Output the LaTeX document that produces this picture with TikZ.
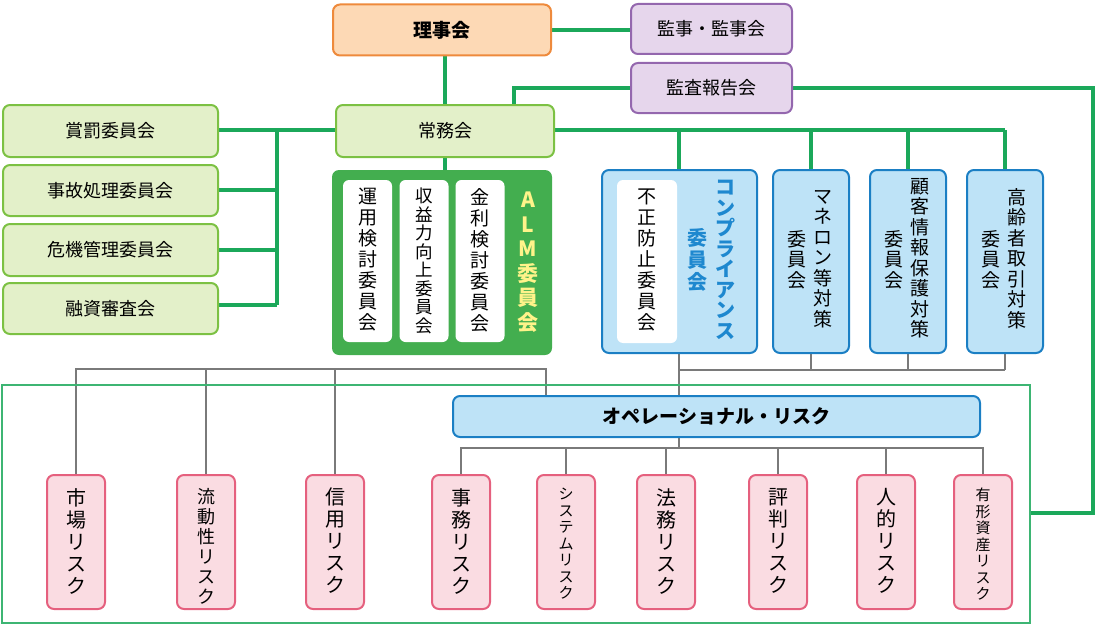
\documentclass[tikz,border=0pt]{standalone}
\usepackage{fontspec}
\setmainfont{Noto Sans CJK JP}
\definecolor{gline}{HTML}{1BA85A}
\definecolor{grl}{HTML}{7A7A7A}
\definecolor{orF}{HTML}{FDD9B5}\definecolor{orD}{HTML}{EE8A3C}
\definecolor{puF}{HTML}{E6D6EC}\definecolor{puD}{HTML}{9467AE}
\definecolor{lgF}{HTML}{E3F0C9}\definecolor{lgD}{HTML}{7CC143}
\definecolor{alm}{HTML}{43AE4F}
\definecolor{blF}{HTML}{BEE3F7}\definecolor{blD}{HTML}{1B7FC4}\definecolor{blT}{HTML}{1E88CF}
\definecolor{pkF}{HTML}{FADCE2}\definecolor{pkD}{HTML}{E5607E}
\definecolor{yl}{HTML}{FFF38A}
\begin{document}
\begin{tikzpicture}[x=1pt,y=-1pt,
 box/.style={draw=#1,line width=2pt,rounded corners=7pt},
 gl/.style={gline,line width=4pt},
 gy/.style={grl,line width=2.5pt},
 vt/.style={anchor=north,align=center,inner sep=0pt,font=\fontsize{19}{20.5}\selectfont},
 ht/.style={font=\fontsize{18}{20}\selectfont}]
\useasboundingbox (0,0) rectangle (1100,626);
% green lines
\draw[gl] (551,30) -- (631,30);
\draw[gl] (445,56) -- (445,105);
\draw[gl] (445,157) -- (445,170);
\draw[gl] (336,130) -- (277,130);
\draw[gl] (277,130) -- (277,305);
\foreach \y in {130,190,250,305} \draw[gl] (218,\y) -- (277,\y);
\draw[gl] (514,105) -- (514,88) -- (631,88);
\draw[gl] (792,88) -- (1093,88) -- (1093,513) -- (1030,513);
\draw[gl] (554,130) -- (1005,130);
\foreach \x in {679,811,908,1005} \draw[gl] (\x,130) -- (\x,170);
% gray lines
\draw[gy] (76,475) -- (76,369) -- (546,369) -- (546,396);
\draw[gy] (206,369) -- (206,475);
\draw[gy] (335,369) -- (335,475);
\draw[gy] (679,353) -- (679,396);
\draw[gy] (679,370) -- (1005,370);
\foreach \x in {811,908,1005} \draw[gy] (\x,353) -- (\x,370);
\draw[gy] (679,437) -- (679,448);
\draw[gy] (461,475) -- (461,448) -- (983,448) -- (983,475);
\foreach \x in {566,666,778,886} \draw[gy] (\x,448) -- (\x,475);
% frame
\draw[color=gline!85,line width=1.5pt] (2,385) rectangle (1030,623);
% top boxes
\node[box=orD,fill=orF,minimum width=218pt,minimum height=51pt,font=\fontsize{19}{20}\selectfont\bfseries] (rijikai) at (442,30) {理事会};
\node[box=puD,fill=puF,minimum width=161pt,minimum height=50pt,ht] (kanji) at (711.5,29) {監事・監事会};
\node[box=puD,fill=puF,minimum width=161pt,minimum height=50pt,ht] (kansa) at (711.5,88) {監査報告会};
\node[box=lgD,fill=lgF,minimum width=218pt,minimum height=52pt,ht] (jomu) at (445,131) {常務会};
\node[box=lgD,fill=lgF,minimum width=215pt,minimum height=52pt,ht] (l1) at (110.5,131) {賞罰委員会};
\node[box=lgD,fill=lgF,minimum width=215pt,minimum height=51pt,ht] (l2) at (110.5,190.5) {事故処理委員会};
\node[box=lgD,fill=lgF,minimum width=215pt,minimum height=52pt,ht] (l3) at (110.5,250) {危機管理委員会};
\node[box=lgD,fill=lgF,minimum width=215pt,minimum height=51pt,ht] (l4) at (110.5,308.5) {融資審査会};
% ALM
\fill[alm,rounded corners=7pt] (332,170) rectangle (552,355);
\foreach \x/\t/\fs/\bs [count=\i] in {367.5/運\\用\\検\\討\\委\\員\\会/19/21,424/収\\益\\力\\向\\上\\委\\員\\会/17.5/18.5,480/金\\利\\検\\討\\委\\員\\会/19/21}{
 \fill[white,rounded corners=6pt] (\x-24.5,180) rectangle (\x+24.5,342);
 \node[vt,font=\fontsize{\fs}{\bs}\selectfont] (alm\i) at (\x,188) {\t};}
\node[vt,text=yl,font=\fontsize{21}{24.5}\selectfont\bfseries] (almt) at (528,192) {A\\L\\M\\委\\員\\会};
% compliance
\draw[box=blD,fill=blF] (602,170) rectangle (757,353);
\fill[white,rounded corners=6pt] (617,180) rectangle (677,343);
\node[vt,font=\fontsize{19}{21}\selectfont] (fusei) at (647,189) {不\\正\\防\\止\\委\\員\\会};
\node[vt,text=blT,font=\fontsize{20}{20.5}\selectfont\bfseries] (comp1) at (725,180) {コ\\ン\\プ\\ラ\\イ\\ア\\ン\\ス};
\node[vt,text=blT,font=\fontsize{20}{22}\selectfont\bfseries] (comp2) at (697,228) {委\\員\\会};
% others
\foreach \x/\a/\ty [count=\i] in {811/マ\\ネ\\ロ\\ン\\等\\対\\策/190,908/顧\\客\\情\\報\\保\\護\\対\\策/178,1005/高\\齢\\者\\取\\引\\対\\策/188}{
 \draw[box=blD,fill=blF] (\x-38,170) rectangle (\x+38,353);
 \node[vt] (oa\i) at (\x+12,\ty) {\a};
 \node[vt] (ob\i) at (\x-14,230) {委\\員\\会};}
% op risk
\node[box=blD,fill=blF,minimum width=527pt,minimum height=41pt,font=\fontsize{19}{20}\selectfont\bfseries] (op) at (716.5,416.5) {オペレーショナル・リスク};
% pink
\foreach \x/\t/\fs/\bs [count=\i] in {76/市\\場\\リ\\ス\\ク/20/22,206/流\\動\\性\\リ\\ス\\ク/18/20,335/信\\用\\リ\\ス\\ク/20/22,461/事\\務\\リ\\ス\\ク/20/22,566/シ\\ス\\テ\\ム\\リ\\ス\\ク/15/16.5,666/法\\務\\リ\\ス\\ク/20/22,778/評\\判\\リ\\ス\\ク/20/22,886/人\\的\\リ\\ス\\ク/20/22,983/有\\形\\資\\産\\リ\\ス\\ク/15/16.5}{
 \draw[box=pkD,fill=pkF] (\x-29,475) rectangle (\x+29,609);
 \node[vt,font=\fontsize{\fs}{\bs}\selectfont] (p\i) at (\x,488) {\t};}
\end{tikzpicture}
\end{document}
